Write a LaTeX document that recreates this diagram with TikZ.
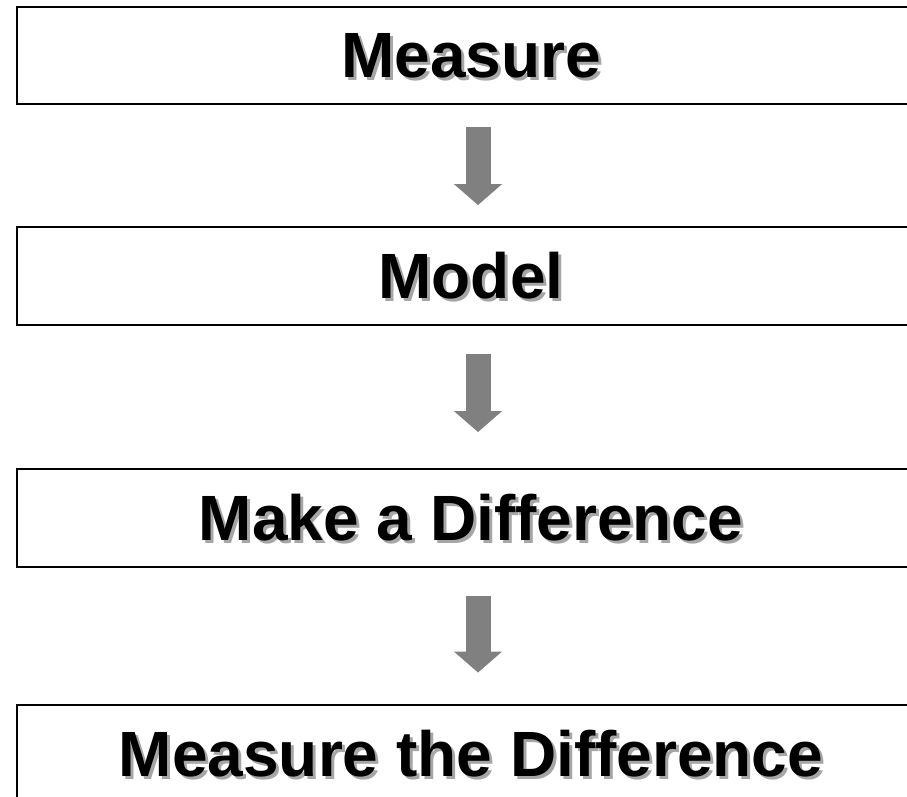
\documentclass[tikz,border=0pt]{standalone}
\usepackage{fontspec}
\setmainfont{Liberation Sans}
\usetikzlibrary{arrows.meta}
\definecolor{shadowgray}{HTML}{A6A6A6}
\definecolor{arrowgray}{HTML}{808080}
\newcommand\shtext[1]{\rlap{\smash{\hspace{3pt}\raisebox{-3pt}{\textcolor{shadowgray}{#1}}}}#1}
\tikzset{
  stepbox/.style={draw=black, line width=2.4pt, minimum width=908pt, minimum height=97.5pt,
    inner sep=0pt, font=\bfseries\fontsize{64}{64}\selectfont, text=black},
  flowarrow/.style={draw=arrowgray, line width=25pt,
    -{Triangle[width=47pt,length=21pt]}, color=arrowgray}
}
\begin{document}
\begin{tikzpicture}[x=1pt,y=-1pt]
\useasboundingbox (0,0) rectangle (907,797);
\clip (0,0) rectangle (907,797);
\node[stepbox] (b1) at (471,55.5) {\shtext{Measure}};
\node[stepbox] (b2) at (471,276) {\shtext{Model}};
\node[stepbox] (b3) at (471,518) {\shtext{Make a Difference}};
\node[stepbox] (b4) at (471,753.5) {\shtext{Measure the Difference}};
\draw[flowarrow, shorten <=22pt, shorten >=21pt] ([xshift=7pt]b1.south) -- ([xshift=7pt]b2.north);
\draw[flowarrow, shorten <=28pt, shorten >=36pt] ([xshift=7pt]b2.south) -- ([xshift=7pt]b3.north);
\draw[flowarrow, shorten <=28pt, shorten >=31pt] ([xshift=7pt]b3.south) -- ([xshift=7pt]b4.north);
\end{tikzpicture}
\end{document}
